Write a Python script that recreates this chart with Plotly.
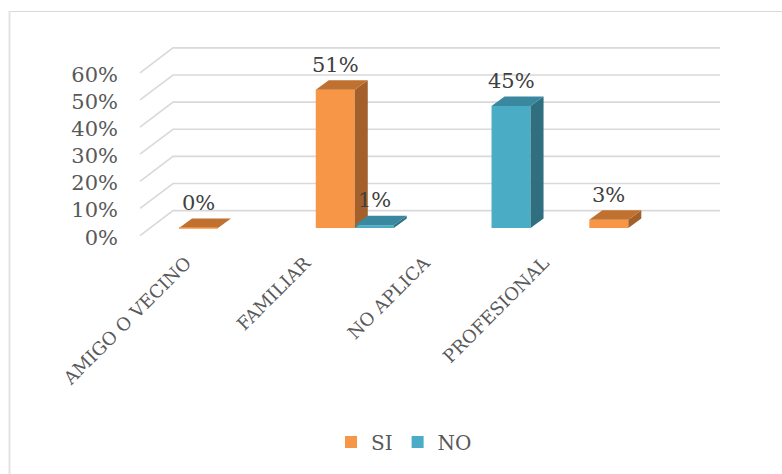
import plotly.graph_objects as go

# ---- data ----
categories = ["AMIGO O VECINO", "FAMILIAR", "NO APLICA", "PROFESIONAL"]
si_values = [0, 51, None, 3]
no_values = [None, 1, 45, None]
y_ticks = [0, 10, 20, 30, 40, 50, 60]
y_tick_labels = ["0%", "10%", "20%", "30%", "40%", "50%", "60%"]

# ---- styling ----
FONT = "DejaVu Serif"
TXT = "#595959"
SI_FRONT, SI_TOP, SI_SIDE = "#F79646", "#C0712F", "#A3602A"
NO_FRONT, NO_TOP, NO_SIDE = "#4BACC6", "#3A88A0", "#2F6F7F"
GRID = "#D9D9D9"

W, H = 782, 474
ML, MR, MT, MB = 115, 31, 38, 219
PLOT_W, PLOT_H = W - ML - MR, H - MT - MB
PX_PER_CAT = 136.77
PX_PER_PCT = 2.7125
X0_PX, Y0_PX = 218, 228          # pixel of category 0 / value 0 (bar fronts)

x_lo = -(X0_PX - ML) / PX_PER_CAT
x_hi = x_lo + PLOT_W / PX_PER_CAT
y_lo = -((H - MB) - Y0_PX) / PX_PER_PCT
y_hi = y_lo + PLOT_H / PX_PER_PCT

BAR_W = 39 / PX_PER_CAT            # width of one bar in category units
DX = 13 / PX_PER_CAT               # bar depth (horizontal)
DY = 9.5 / PX_PER_PCT              # bar depth (vertical)


def px_x(p):
    return (p - ML) / PLOT_W


def px_y(p):
    return ((H - MB) - p) / PLOT_H


fig = go.Figure()

shapes = []
# back wall gridlines with their slanted floor-side segment (kept below the bars)
g_front_x = (140 - X0_PX) / PX_PER_CAT
g_back_x = (173 - X0_PX) / PX_PER_CAT
g_end_x = (720 - X0_PX) / PX_PER_CAT
for v in y_ticks:
    shapes.append(dict(
        type="path", xref="x", yref="y", layer="below",
        path=f"M {g_front_x},{v - 2.8} L {g_back_x},{v + 6.4} L {g_end_x},{v + 6.4}",
        line=dict(color=GRID, width=1.6)))

# front faces
fig.add_trace(go.Bar(name="SI", x=list(range(len(categories))), y=si_values,
                     marker=dict(color=SI_FRONT, line=dict(width=0)), width=BAR_W,
                     offset=-BAR_W))
fig.add_trace(go.Bar(name="NO", x=list(range(len(categories))), y=no_values,
                     marker=dict(color=NO_FRONT, line=dict(width=0)), width=BAR_W,
                     offset=0))


def faces(values, offset, top_col, side_col, front_col):
    for i, v in enumerate(values):
        if v is None:
            continue
        x0 = i + offset
        x1 = x0 + BAR_W
        # side face
        fig.add_trace(go.Scatter(
            x=[x1, x1, x1 + DX, x1 + DX, x1], y=[0, v, v + DY, DY, 0],
            fill="toself", fillcolor=side_col, mode="lines",
            line=dict(width=0, color=side_col), hoverinfo="skip", showlegend=False))
        # top face
        fig.add_trace(go.Scatter(
            x=[x0, x1, x1 + DX, x0 + DX, x0], y=[v, v, v + DY, v + DY, v],
            fill="toself", fillcolor=top_col, mode="lines",
            line=dict(width=0, color=top_col), hoverinfo="skip", showlegend=False))
        if v == 0:
            fig.add_trace(go.Scatter(
                x=[x0, x1], y=[0, 0], mode="lines",
                line=dict(width=1.5, color=front_col), hoverinfo="skip", showlegend=False))
        fig.add_annotation(x=x0 + BAR_W / 2, y=v, yshift=25, text=f"{v}%",
                           showarrow=False, xanchor="center", yanchor="middle",
                           font=dict(family=FONT, size=21, color="#404040"))


faces(si_values, -BAR_W, SI_TOP, SI_SIDE, SI_FRONT)
faces(no_values, 0, NO_TOP, NO_SIDE, NO_FRONT)

# helper trace carrying the category label axis
LBL_PX_PER_CAT = 119.3
LBL_X0_PX = 186
x2_lo = -(LBL_X0_PX - ML) / LBL_PX_PER_CAT
x2_hi = x2_lo + PLOT_W / LBL_PX_PER_CAT
fig.add_trace(go.Scatter(x=list(range(len(categories))), y=[0] * len(categories),
                         xaxis="x2", mode="markers", marker=dict(opacity=0),
                         hoverinfo="skip", showlegend=False))

shapes += [
    dict(type="line", xref="paper", yref="paper",
         x0=px_x(9), x1=px_x(782), y0=px_y(11.5), y1=px_y(11.5),
         line=dict(color=GRID, width=1)),
    dict(type="line", xref="paper", yref="paper",
         x0=px_x(9.5), x1=px_x(9.5), y0=px_y(11), y1=px_y(474),
         line=dict(color="#E3E3E3", width=2)),
]

fig.update_layout(
    width=W, height=H,
    margin=dict(l=ML, r=MR, t=MT, b=MB),
    paper_bgcolor="white", plot_bgcolor="rgba(0,0,0,0)",
    barmode="overlay",
    font=dict(family=FONT, size=20, color=TXT),
    xaxis=dict(range=[x_lo, x_hi], showgrid=False, zeroline=False,
               showticklabels=False, fixedrange=True),
    xaxis2=dict(range=[x2_lo, x2_hi], overlaying="x", anchor="free",
                position=px_y(248), side="bottom",
                tickmode="array", tickvals=list(range(len(categories))),
                ticktext=categories, tickangle=-45, showgrid=False,
                zeroline=False, showline=False, ticks="",
                tickfont=dict(family=FONT, size=18, color=TXT)),
    yaxis=dict(range=[y_lo, y_hi], showgrid=False, zeroline=False,
               tickmode="array", tickvals=[v - 3.4 for v in y_ticks],
               ticktext=y_tick_labels, ticks="", ticklabelstandoff=-4,
               tickfont=dict(family=FONT, size=21, color=TXT)),
    legend=dict(orientation="h", x=px_x(404), y=px_y(442),
                xanchor="center", yanchor="middle",
                font=dict(family=FONT, size=20, color=TXT)),
    shapes=shapes,
)

fig.write_html("out.html")
